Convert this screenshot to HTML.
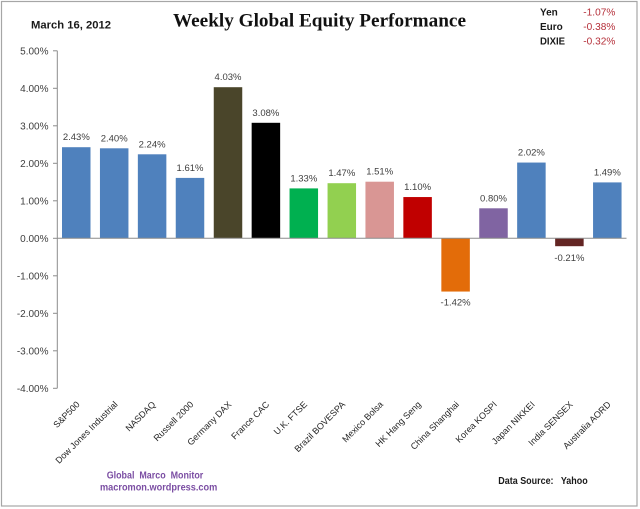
<!DOCTYPE html>
<html>
<head>
<meta charset="utf-8">
<style>
  html, body { margin:0; padding:0; background:#fff; }
  svg { display:block; }
  .ax { font-family:"Liberation Sans", Arial, sans-serif; font-size:10px; fill:#404040; }
  .val { font-family:"Liberation Sans", Arial, sans-serif; font-size:9.5px; fill:#404040; }
  .cat { font-family:"Liberation Sans", Arial, sans-serif; font-size:9px; fill:#262626; }
</style>
</head>
<body>
<svg width="640" height="509" viewBox="0 0 640 509" xmlns="http://www.w3.org/2000/svg">
  <rect x="0" y="0" width="640" height="509" fill="#fff"/>
  <rect x="1.5" y="1.5" width="635.5" height="504.5" fill="none" stroke="#a6a6a6" stroke-width="1.2"/>

  <!-- Header -->
  <text x="31" y="28.3" font-family="Liberation Sans, Arial, sans-serif" font-weight="bold" font-size="11px" fill="#1a1a1a" textLength="80" lengthAdjust="spacingAndGlyphs">March 16, 2012</text>
  <text x="173" y="26.7" font-family="Liberation Serif, Times New Roman, serif" font-weight="bold" font-size="19px" fill="#111" textLength="293" lengthAdjust="spacingAndGlyphs">Weekly Global Equity Performance</text>

  <g font-family="Liberation Sans, Arial, sans-serif" font-size="10px">
    <text x="540" y="15.7" font-weight="bold" fill="#1a1a1a">Yen</text>
    <text x="540" y="30" font-weight="bold" fill="#1a1a1a">Euro</text>
    <text x="540" y="44.3" font-weight="bold" fill="#1a1a1a" textLength="25" lengthAdjust="spacingAndGlyphs">DIXIE</text>
    <text x="583.3" y="15.7" fill="#b5303a" textLength="32" lengthAdjust="spacingAndGlyphs">-1.07%</text>
    <text x="583.3" y="30" fill="#b5303a" textLength="32" lengthAdjust="spacingAndGlyphs">-0.38%</text>
    <text x="583.3" y="44.3" fill="#b5303a" textLength="32" lengthAdjust="spacingAndGlyphs">-0.32%</text>
  </g>

  <!-- Y axis -->
  <line x1="57.3" y1="50.8" x2="57.3" y2="388.3" stroke="#8c8c8c" stroke-width="1"/>
  <g stroke="#8c8c8c" stroke-width="1">
    <line x1="53" y1="50.8" x2="57.3" y2="50.8"/>
    <line x1="53" y1="88.3" x2="57.3" y2="88.3"/>
    <line x1="53" y1="125.8" x2="57.3" y2="125.8"/>
    <line x1="53" y1="163.3" x2="57.3" y2="163.3"/>
    <line x1="53" y1="200.8" x2="57.3" y2="200.8"/>
    <line x1="53" y1="238.3" x2="57.3" y2="238.3"/>
    <line x1="53" y1="275.8" x2="57.3" y2="275.8"/>
    <line x1="53" y1="313.3" x2="57.3" y2="313.3"/>
    <line x1="53" y1="350.8" x2="57.3" y2="350.8"/>
    <line x1="53" y1="388.3" x2="57.3" y2="388.3"/>
  </g>
  <g class="ax" text-anchor="end">
    <text x="48.5" y="54.5">5.00%</text>
    <text x="48.5" y="92">4.00%</text>
    <text x="48.5" y="129.5">3.00%</text>
    <text x="48.5" y="167">2.00%</text>
    <text x="48.5" y="204.5">1.00%</text>
    <text x="48.5" y="242">0.00%</text>
    <text x="48.5" y="279.5">-1.00%</text>
    <text x="48.5" y="317">-2.00%</text>
    <text x="48.5" y="354.5">-3.00%</text>
    <text x="48.5" y="392">-4.00%</text>
  </g>

  <!-- Bars -->
  <rect x="62.0"  y="147.2" width="28.5" height="91.1" fill="#4f81bd"/>
  <rect x="99.95" y="148.3" width="28.5" height="90.0" fill="#4f81bd"/>
  <rect x="137.85" y="154.3" width="28.5" height="84.0" fill="#4f81bd"/>
  <rect x="175.75" y="177.9" width="28.5" height="60.4" fill="#4f81bd"/>
  <rect x="213.75" y="87.2" width="28.5" height="151.1" fill="#4a452a"/>
  <rect x="251.65" y="122.8" width="28.5" height="115.5" fill="#000000"/>
  <rect x="289.55" y="188.4" width="28.5" height="49.9" fill="#00b050"/>
  <rect x="327.55" y="183.2" width="28.5" height="55.1" fill="#92d050"/>
  <rect x="365.45" y="181.7" width="28.5" height="56.6" fill="#d99694"/>
  <rect x="403.35" y="197.05" width="28.5" height="41.25" fill="#c00000"/>
  <rect x="441.35" y="238.3" width="28.5" height="53.25" fill="#e36c09"/>
  <rect x="479.25" y="208.3" width="28.5" height="30.0" fill="#8064a2"/>
  <rect x="517.15" y="162.55" width="28.5" height="75.75" fill="#4f81bd"/>
  <rect x="555.15" y="238.3" width="28.5" height="7.9" fill="#632523"/>
  <rect x="593.05" y="182.4" width="28.5" height="55.9" fill="#4f81bd"/>

  <!-- Zero line -->
  <line x1="57.3" y1="238.3" x2="626.5" y2="238.3" stroke="#8c8c8c" stroke-width="1"/>

  <!-- Value labels -->
  <g class="val" text-anchor="middle">
    <text x="76.3" y="140.2">2.43%</text>
    <text x="114.2" y="141.3">2.40%</text>
    <text x="152.1" y="147.3">2.24%</text>
    <text x="190.0" y="170.9">1.61%</text>
    <text x="228.0" y="80.2">4.03%</text>
    <text x="265.9" y="115.8">3.08%</text>
    <text x="303.8" y="181.4">1.33%</text>
    <text x="341.8" y="176.2">1.47%</text>
    <text x="379.7" y="174.7">1.51%</text>
    <text x="417.6" y="190.0">1.10%</text>
    <text x="455.6" y="305.5">-1.42%</text>
    <text x="493.5" y="201.3">0.80%</text>
    <text x="531.4" y="155.5">2.02%</text>
    <text x="569.4" y="261.0">-0.21%</text>
    <text x="607.3" y="175.4">1.49%</text>
  </g>

  <!-- Category labels -->
  <g class="cat" text-anchor="end">
    <text transform="translate(80.3,405) rotate(-45)">S&amp;P500</text>
    <text transform="translate(118.2,405) rotate(-45)">Dow Jones Industrial</text>
    <text transform="translate(156.1,405) rotate(-45)">NASDAQ</text>
    <text transform="translate(194.0,405) rotate(-45)">Russell 2000</text>
    <text transform="translate(232.0,405) rotate(-45)">Germany DAX</text>
    <text transform="translate(269.9,405) rotate(-45)">France CAC</text>
    <text transform="translate(307.8,405) rotate(-45)">U.K. FTSE</text>
    <text transform="translate(345.8,405) rotate(-45)">Brazil BOVESPA</text>
    <text transform="translate(383.7,405) rotate(-45)">Mexico Bolsa</text>
    <text transform="translate(421.6,405) rotate(-45)">HK Hang Seng</text>
    <text transform="translate(459.6,405) rotate(-45)">China Shanghai</text>
    <text transform="translate(497.5,405) rotate(-45)">Korea KOSPI</text>
    <text transform="translate(535.4,405) rotate(-45)">Japan NIKKEI</text>
    <text transform="translate(573.4,405) rotate(-45)">India SENSEX</text>
    <text transform="translate(611.3,405) rotate(-45)">Australia AORD</text>
  </g>

  <!-- Footer -->
  <g font-family="Liberation Sans, Arial, sans-serif" font-weight="bold" font-size="10px">
    <text xml:space="preserve" x="106.7" y="478.3" fill="#7b4ea3" textLength="96.6" lengthAdjust="spacingAndGlyphs">Global  Marco  Monitor</text>
    <text x="100" y="490.7" fill="#7b4ea3" textLength="117.3" lengthAdjust="spacingAndGlyphs">macromon.wordpress.com</text>
    <text xml:space="preserve" x="498.3" y="484" fill="#1a1a1a" textLength="89.4" lengthAdjust="spacingAndGlyphs">Data Source:   Yahoo</text>
  </g>
</svg>
</body>
</html>
